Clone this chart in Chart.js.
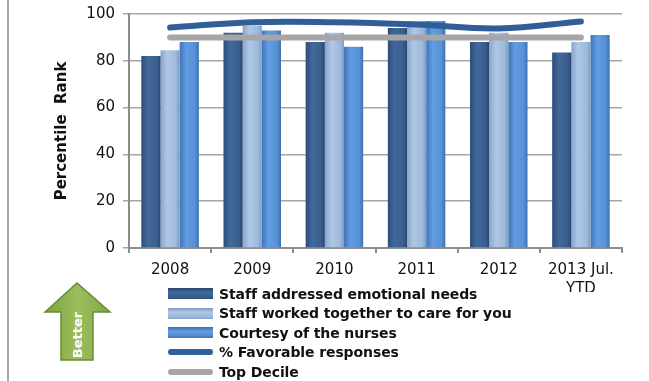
<!DOCTYPE html>
<html>
<head>
<meta charset="utf-8">
<script src="https://cdn.jsdelivr.net/npm/chart.js@4.4.1/dist/chart.umd.min.js"></script>
<style>
  html, body { margin: 0; padding: 0; background: #fff; }
  #wrap { position: relative; width: 649px; height: 381px; overflow: hidden; }
  #edge { position: absolute; left: 7px; top: 0; width: 2px; height: 381px; background: #a6a6a6; }
  #chartBox { position: absolute; left: 0; top: 0; width: 649px; height: 292px; }
  #legend { position: absolute; left: 168px; top: 284px; font: bold 14px "DejaVu Sans", sans-serif; color: #111; letter-spacing: -0.1px; }
  .item { height: 19.5px; display: flex; align-items: center; }
  .sw { width: 45px; margin-right: 6px; }
  #arrow { position: absolute; left: 40px; top: 278px; }
</style>
</head>
<body>
<div id="wrap">
  <div id="edge"></div>
  <div id="chartBox"><canvas id="chart"></canvas></div>
  <div id="legend"></div>
  <svg id="arrow" width="76" height="88" viewBox="0 0 76 88">
    <defs>
      <linearGradient id="gr" x1="0" y1="0" x2="1" y2="0">
        <stop offset="0" stop-color="#7fa242"/>
        <stop offset="0.5" stop-color="#9cbf5c"/>
        <stop offset="1" stop-color="#84a747"/>
      </linearGradient>
    </defs>
    <polygon points="5,34 37,5 70,34 53,34 53,82 21,82 21,34" fill="url(#gr)" stroke="#6a8a35" stroke-width="1.5"/>
    <text x="0" y="0" transform="translate(42,57) rotate(-90)" text-anchor="middle" fill="#fff"
      font-family="DejaVu Sans, sans-serif" font-weight="bold" font-size="13">Better</text>
  </svg>
</div>
<script>
const years = ['2008', '2009', '2010', '2011', '2012', ['2013 Jul.', 'YTD']];
const emotionalNeeds = [82, 92, 88, 94, 88, 83.5];
const workedTogether = [84.5, 95, 92, 97, 92, 88];
const courtesy = [88, 93, 86, 97, 88, 91];
const favorable = [94.2, 96.5, 96.5, 95.5, 93.8, 96.8];
const topDecile = [90, 90, 90, 90, 90, 90];
const yTicks = [0, 20, 40, 60, 80, 100];

const seriesNames = ['Staff addressed emotional needs', 'Staff worked together to care  for you',
  'Courtesy of the nurses', '% Favorable responses', 'Top Decile'];
const barStops = [
  ['#2c4d78', '#41699b', '#3a5f8e', '#2a4670'],
  ['#8aa6cc', '#b0c7e6', '#9fb9dc', '#7f9bc2'],
  ['#3f74b8', '#629de3', '#5790d5', '#3d6fae']
];
const lineColors = ['#2f5f96', '#a6a6a6'];

// horizontal gradient across each bar, position taken from the x scale
function barFill(k) {
  return function (c) {
    const chart = c.chart;
    const xs = chart.scales.x;
    if (!xs || c.dataIndex === undefined) return barStops[k][1];
    const cat = xs.width / years.length;
    const w = cat * 0.7 / 3;
    const center = xs.getPixelForValue(c.dataIndex) + (k - 1) * w;
    if (!isFinite(center) || !isFinite(w) || w <= 0) return barStops[k][1];
    const g = chart.ctx.createLinearGradient(center - w / 2, 0, center + w / 2, 0);
    g.addColorStop(0, barStops[k][0]);
    g.addColorStop(0.35, barStops[k][1]);
    g.addColorStop(0.8, barStops[k][2]);
    g.addColorStop(1, barStops[k][3]);
    return g;
  };
}

const barData = [emotionalNeeds, workedTogether, courtesy];
const datasets = barData.map((d, k) => ({
  type: 'bar',
  label: seriesNames[k],
  data: d,
  backgroundColor: barFill(k),
  borderWidth: 0,
  order: 1
}));
datasets.push({
  type: 'line', label: seriesNames[3], data: favorable,
  borderColor: lineColors[0], borderWidth: 6, tension: 0.4,
  pointRadius: 0, borderCapStyle: 'round', order: 0
});
datasets.push({
  type: 'line', label: seriesNames[4], data: topDecile,
  borderColor: lineColors[1], borderWidth: 6, tension: 0,
  pointRadius: 0, borderCapStyle: 'round', order: 0
});

new Chart(document.getElementById('chart'), {
  data: { labels: years, datasets: datasets },
  options: {
    responsive: true,
    maintainAspectRatio: false,
    animation: false,
    datasets: { bar: { categoryPercentage: 0.7, barPercentage: 1.0 } },
    layout: { padding: { left: 0, right: 27, top: 14, bottom: 0 } },
    plugins: { legend: { display: false }, tooltip: { enabled: false } },
    scales: {
      x: {
        grid: { display: true, drawOnChartArea: false, drawTicks: true, tickLength: 5, offset: true, color: '#8c8c8c', lineWidth: 2 },
        border: { color: '#8c8c8c', width: 2 },
        ticks: { color: '#111', padding: 8, font: { family: 'DejaVu Sans', size: 15, lineHeight: 1.25 } },
        afterFit: s => { s.height = 292 - 248; s.paddingLeft = 0; s.paddingRight = 0; }
      },
      y: {
        min: 0, max: 100,
        afterBuildTicks: s => { s.ticks = yTicks.map(v => ({ value: v })); },
        grid: { color: '#a6a6a6', lineWidth: 1.5, tickLength: 6 },
        border: { color: '#8c8c8c', width: 2 },
        ticks: { color: '#111', padding: 8, font: { family: 'DejaVu Sans', size: 15 } },
        title: { display: true, text: 'Percentile  Rank', color: '#111', padding: { top: 53, bottom: 0 },
          font: { family: 'DejaVu Sans', size: 15, weight: 'bold' } },
        afterFit: s => { s.width = 129; s.paddingTop = 0; s.paddingBottom = 0; }
      }
    }
  }
});

// legend in a single left-aligned column
const legend = document.getElementById('legend');
seriesNames.forEach((name, i) => {
  const row = document.createElement('div');
  row.className = 'item';
  const sw = document.createElement('div');
  sw.className = 'sw';
  if (i < 3) {
    const s = barStops[i];
    sw.style.height = '11px';
    sw.style.background = 'linear-gradient(to bottom,' + s[3] + ',' + s[1] + ' 40%,' + s[2] + ' 75%,' + s[0] + ')';
  } else {
    sw.style.height = '6px';
    sw.style.borderRadius = '3px';
    sw.style.background = lineColors[i - 3];
  }
  row.appendChild(sw);
  const t = document.createElement('span');
  t.textContent = name;
  row.appendChild(t);
  legend.appendChild(row);
});
</script>
</body>
</html>
